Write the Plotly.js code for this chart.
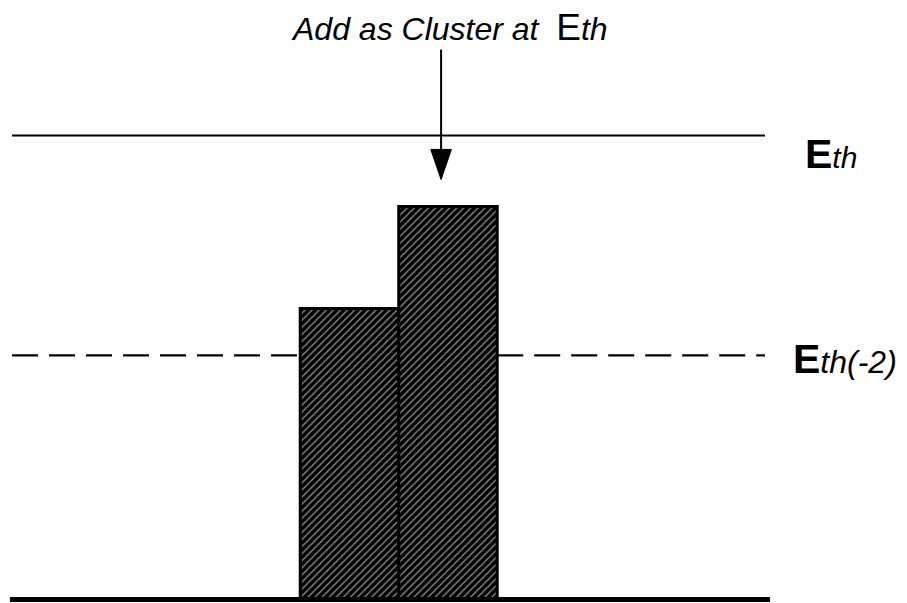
<!DOCTYPE html>
<html>
<head>
<meta charset="utf-8">
<script src="https://cdn.plot.ly/plotly-3.0.1.min.js"></script>
<style>html,body{margin:0;padding:0;background:#fff;}#chart{width:907px;height:603px;}</style>
</head>
<body>
<div id="chart"></div>
<script>
// ---- data ----
const barPositions = [1, 2];
const barEnergies = [62.7, 84.7];
const thresholdEth = 100;
const thresholdEth2 = 52.6;
const baselineEnergy = 0;
const labelEth = "<span style='font-weight:bold;font-size:41px'>E</span><span style='font-style:italic;font-size:30px'>th</span>";
const labelEth2 = "<span style='font-weight:bold;font-size:41px'>E</span><span style='font-style:italic;font-size:32px'>th(-2)</span>";
const labelArrow = "<span style='font-style:italic'>Add as Cluster at </span> <span style='font-size:37px'>E</span><span style='font-style:italic'>th</span>";

// ---- layout constants ----
const xMin = -2.548, xMax = 6.66;
const yMin = -0.75, yMax = 129.2;
const lineLeft = -2.426, lineRight = 5.218;
const baseLeft = -2.447, baseRight = 5.269;
const barLeftEdge = 0.5, barRightEdge = 2.5;
const arrowX = 1.93, arrowTopY = 118.5, arrowTipY = 90.5, arrowHeadY = 97, arrowHalfW = 0.105;

const traces = [
  {type:'bar', x: barPositions, y: barEnergies, width: 1,
   marker:{color:'black', line:{color:'black', width:3},
     pattern:{shape:'/', fgcolor:'#8c8c8c', bgcolor:'black', size:5, solidity:0.28}},
   hoverinfo:'skip'},
  {type:'scatter', mode:'lines', x:[lineLeft, lineRight], y:[thresholdEth, thresholdEth],
   line:{color:'black', width:2.2}, hoverinfo:'skip'},
  {type:'scatter', mode:'lines', x:[lineLeft, barLeftEdge], y:[thresholdEth2, thresholdEth2],
   line:{color:'black', width:2.2, dash:'26px,11px'}, hoverinfo:'skip'},
  {type:'scatter', mode:'lines', x:[barRightEdge, lineRight], y:[thresholdEth2, thresholdEth2],
   line:{color:'black', width:2.2, dash:'26px,11px'}, hoverinfo:'skip'},
  {type:'scatter', mode:'lines', x:[baseLeft, baseRight], y:[baselineEnergy, baselineEnergy],
   line:{color:'black', width:5}, hoverinfo:'skip'}
];

const font = {family:'"Liberation Sans", Arial, sans-serif', color:'black'};

const layout = {
  width:907, height:603,
  margin:{l:0,r:0,t:0,b:0},
  paper_bgcolor:'white', plot_bgcolor:'white',
  showlegend:false,
  font: font,
  xaxis:{range:[xMin,xMax], visible:false, fixedrange:true},
  yaxis:{range:[yMin,yMax], visible:false, fixedrange:true},
  shapes:[
    {type:'line', xref:'x', yref:'y', x0:arrowX, x1:arrowX, y0:arrowTopY, y1:arrowHeadY,
     line:{color:'black', width:2}},
    {type:'path', xref:'x', yref:'y',
     path:`M ${arrowX-arrowHalfW},${arrowHeadY} L ${arrowX+arrowHalfW},${arrowHeadY} L ${arrowX},${arrowTipY} Z`,
     fillcolor:'black', line:{color:'black', width:1}}
  ],
  annotations:[
    {xref:'x', yref:'y', x:arrowX, y:arrowTopY, yanchor:'bottom', yshift:0, xshift:8, showarrow:false,
     text:labelArrow, font:{...font, size:32}},
    {xref:'x', yref:'y', x:5.6, y:thresholdEth, xanchor:'left', yanchor:'middle', yshift:-18, showarrow:false,
     text:labelEth, font:{...font, size:30}},
    {xref:'x', yref:'y', x:5.48, y:thresholdEth2, xanchor:'left', yanchor:'middle', yshift:-4, showarrow:false,
     text:labelEth2, font:{...font, size:32}}
  ]
};

Plotly.newPlot('chart', traces, layout, {staticPlot:true, displayModeBar:false});
</script>
</body>
</html>
